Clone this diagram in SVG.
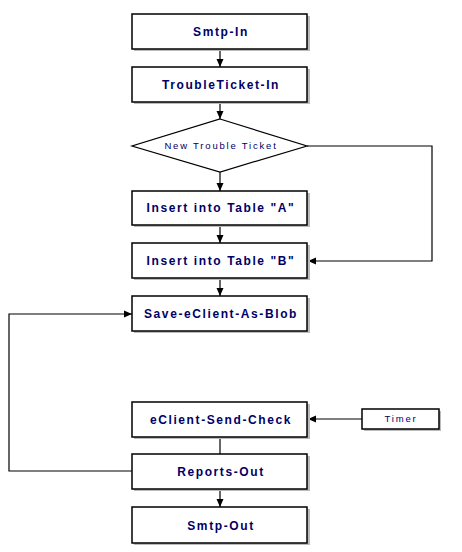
<svg xmlns="http://www.w3.org/2000/svg" width="462" height="552" viewBox="0 0 462 552">
<defs>
<marker id="ah" viewBox="0 0 8 8" refX="8" refY="4" markerWidth="8" markerHeight="8" markerUnits="userSpaceOnUse" orient="auto">
<path d="M0,0.5 L8,4 L0,7.5 z" fill="#000"/>
</marker>
</defs>
<style>
.box{fill:#fff;stroke:#000;stroke-width:1.5}
.sh{fill:#bbb;stroke:none}
.t{font-family:"Liberation Sans",Arial,sans-serif;font-weight:bold;font-size:12px;letter-spacing:1.6px;fill:#000066;text-anchor:middle}
.s{font-family:"Liberation Sans",Arial,sans-serif;font-size:9.5px;letter-spacing:1.8px;fill:#000066;text-anchor:middle}
.c{fill:none;stroke:#000;stroke-width:1.2}
</style>
<rect width="462" height="552" fill="#fff"/>
<g id="connectors">
<line class="c" x1="220" y1="49" x2="220" y2="67" marker-end="url(#ah)"/>
<line class="c" x1="220" y1="102" x2="220" y2="119" marker-end="url(#ah)"/>
<line class="c" x1="220" y1="172" x2="220" y2="191" marker-end="url(#ah)"/>
<line class="c" x1="220" y1="225" x2="220" y2="243" marker-end="url(#ah)"/>
<line class="c" x1="220" y1="278" x2="220" y2="296" marker-end="url(#ah)"/>
<polyline class="c" points="307,146 432,146 432,261 308,261" marker-end="url(#ah)"/>
<line class="c" x1="220" y1="437" x2="220" y2="454"/>
<line class="c" x1="220" y1="489" x2="220" y2="507" marker-end="url(#ah)"/>
<polyline class="c" points="132,471 9,471 9,314 132,314" marker-end="url(#ah)"/>
<line class="c" x1="362" y1="419" x2="308" y2="419" marker-end="url(#ah)"/>
</g>
<g id="smtp-in">
<rect class="sh" x="134" y="16" width="176" height="35"/>
<rect class="box" x="132" y="14" width="175" height="35"/>
<text class="t" x="221" y="36">Smtp-In</text>
</g>
<g id="troubleticket-in">
<rect class="sh" x="134" y="69" width="176" height="35"/>
<rect class="box" x="132" y="67" width="175" height="35"/>
<text class="t" x="221" y="89">TroubleTicket-In</text>
</g>
<g id="new-trouble-ticket">
<polygon points="220,119 307,146 220,172 132,146" fill="#fff" stroke="#000" stroke-width="1.2"/>
<text class="s" x="221" y="149">New Trouble Ticket</text>
</g>
<g id="insert-a">
<rect class="sh" x="134" y="193" width="176" height="34"/>
<rect class="box" x="132" y="191" width="175" height="34"/>
<text class="t" x="221" y="212">Insert into Table "A"</text>
</g>
<g id="insert-b">
<rect class="sh" x="134" y="245" width="176" height="35"/>
<rect class="box" x="132" y="243" width="175" height="35"/>
<text class="t" x="221" y="265">Insert into Table "B"</text>
</g>
<g id="save-blob">
<rect class="sh" x="134" y="298" width="176" height="35"/>
<rect class="box" x="132" y="296" width="175" height="35"/>
<text class="t" x="221" y="318">Save-eClient-As-Blob</text>
</g>
<g id="eclient-send-check">
<rect class="sh" x="134" y="404" width="176" height="35"/>
<rect class="box" x="132" y="402" width="175" height="35"/>
<text class="t" x="221" y="424">eClient-Send-Check</text>
</g>
<g id="timer">
<rect class="sh" x="364" y="411" width="77" height="20"/>
<rect class="box" x="362" y="409" width="77" height="20"/>
<text class="s" x="401" y="422">Timer</text>
</g>
<g id="reports-out">
<rect class="sh" x="134" y="456" width="176" height="35"/>
<rect class="box" x="132" y="454" width="175" height="35"/>
<text class="t" x="221" y="476">Reports-Out</text>
</g>
<g id="smtp-out">
<rect class="sh" x="134" y="509" width="176" height="36"/>
<rect class="box" x="132" y="507" width="175" height="36"/>
<text class="t" x="221" y="530">Smtp-Out</text>
</g>
</svg>
